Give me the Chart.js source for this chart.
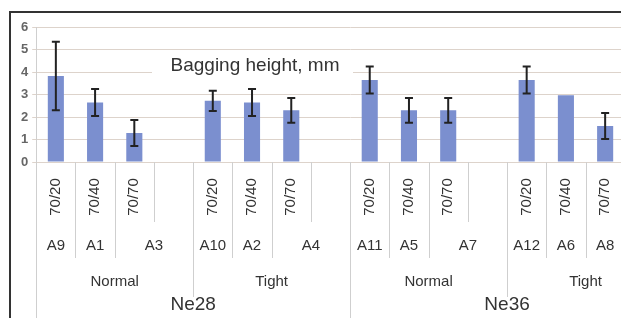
<!DOCTYPE html>
<html>
<head>
    <title>Bagging height</title>
    <script src="https://cdn.jsdelivr.net/npm/chart.js"></script>
    <style>
        body {
            margin: 0;
            background: #fff;
            overflow: hidden;
        }
        .wrap {
            position: absolute;
            left: 0;
            top: 0;
            width: 670px;
            height: 318px;
        }
    </style>
</head>
<body>
    <div class="wrap"><canvas id="bagChart"></canvas></div>
    <script>
        // innermost to outermost category levels
        // '' in outer levels = continues previous cell, null = its own blank cell
        const ratios  = ['70/20', '70/40', '70/70', '', '70/20', '70/40', '70/70', '', '70/20', '70/40', '70/70', '', '70/20', '70/40', '70/70', ''];
        const samples = ['A9', 'A1', 'A3', '', 'A10', 'A2', 'A4', '', 'A11', 'A5', 'A7', '', 'A12', 'A6', 'A8', null];
        const setting = ['Normal', '', '', '', 'Tight', '', '', '', 'Normal', '', '', '', 'Tight', '', '', ''];
        const yarn    = ['Ne28', '', '', '', '', '', '', '', 'Ne36', '', '', '', '', '', '', ''];

        const heights = [3.82, 2.65, 1.29, null, 2.72, 2.65, 2.3, null, 3.64, 2.3, 2.3, null, 3.64, 2.97, 1.6, null];
        const errors  = [1.52, 0.6, 0.58, null, 0.45, 0.6, 0.55, null, 0.6, 0.55, 0.55, null, 0.6, null, 0.58, null];
        const yTicks  = [0, 1, 2, 3, 4, 5, 6];
        const chartTitle = 'Bagging height, mm';

        const levels = [samples, setting, yarn];
        // bottom of each label row: ratios, samples, setting, yarn
        const rowBottoms = [222, 258, 297, 318];
        const rowCenters = [197, 246, 282, 305];

        const framePlugin = {
            id: 'frame',
            beforeDraw(chart) {
                const ctx = chart.ctx;
                ctx.save();
                ctx.strokeStyle = '#333';
                ctx.lineWidth = 2;
                ctx.beginPath();
                ctx.moveTo(10, 330);
                ctx.lineTo(10, 12);
                ctx.lineTo(chart.width, 12);
                ctx.stroke();
                ctx.restore();
            }
        };

        const titlePlugin = {
            id: 'boxTitle',
            beforeDatasetsDraw(chart) {
                const ctx = chart.ctx;
                ctx.save();
                ctx.fillStyle = '#fff';
                ctx.fillRect(152, 53, 201, 22);
                ctx.fillStyle = '#333';
                ctx.font = '19px Arial, "Liberation Sans", sans-serif';
                ctx.textAlign = 'center';
                ctx.textBaseline = 'alphabetic';
                ctx.fillText(chartTitle, 255, 71);
                ctx.restore();
            }
        };

        const errorPlugin = {
            id: 'errorBars',
            afterDatasetsDraw(chart) {
                const ctx = chart.ctx;
                const y = chart.scales.y;
                const meta = chart.getDatasetMeta(0);
                ctx.save();
                ctx.strokeStyle = '#222';
                ctx.lineWidth = 2;
                heights.forEach((v, i) => {
                    if (v == null || errors[i] == null) return;
                    const x = meta.data[i].x;
                    const top = y.getPixelForValue(v + errors[i]);
                    const bot = y.getPixelForValue(v - errors[i]);
                    ctx.beginPath();
                    ctx.moveTo(x, top); ctx.lineTo(x, bot);
                    ctx.moveTo(x - 4, top); ctx.lineTo(x + 4, top);
                    ctx.moveTo(x - 4, bot); ctx.lineTo(x + 4, bot);
                    ctx.stroke();
                });
                ctx.restore();
            }
        };

        const multiAxisPlugin = {
            id: 'multiAxis',
            afterDraw(chart) {
                const ctx = chart.ctx;
                const x = chart.scales.x;
                const n = ratios.length;
                const half = (x.getPixelForValue(1) - x.getPixelForValue(0)) / 2;
                const edge = i => x.getPixelForValue(i) - half;
                const top = chart.chartArea.bottom;

                ctx.save();
                // separator lines
                ctx.strokeStyle = '#cfcfcf';
                ctx.lineWidth = 1;
                for (let b = 0; b <= n; b++) {
                    let depth = 0;
                    if (b === 0 || b === n) depth = 3;
                    else levels.forEach((lv, k) => { if (lv[b] !== '') depth = k + 1; });
                    const px = Math.round(edge(b)) + 0.5;
                    ctx.beginPath();
                    ctx.moveTo(px, top);
                    ctx.lineTo(px, rowBottoms[depth]);
                    ctx.stroke();
                }

                ctx.fillStyle = '#333';
                ctx.textAlign = 'center';
                ctx.textBaseline = 'middle';
                ctx.font = '15px Arial, "Liberation Sans", sans-serif';
                // innermost labels, rotated
                ratios.forEach((t, i) => {
                    if (!t) return;
                    ctx.save();
                    ctx.translate(x.getPixelForValue(i), rowCenters[0]);
                    ctx.rotate(-Math.PI / 2);
                    ctx.fillText(t, 0, 0);
                    ctx.restore();
                });
                // outer levels, centred over their span
                levels.forEach((lv, k) => {
                    ctx.font = (k === 2 ? '19px' : '15px') + ' Arial, "Liberation Sans", sans-serif';
                    for (let i = 0; i < n; i++) {
                        if (lv[i] === '' || lv[i] == null) continue;
                        let j = i + 1;
                        while (j < n && lv[j] === '') j++;
                        const cx = (edge(i) + edge(j)) / 2;
                        ctx.fillText(lv[i], cx, rowCenters[k + 1]);
                    }
                });
                ctx.restore();
            }
        };

        new Chart(document.getElementById('bagChart'), {
            type: 'bar',
            data: {
                labels: ratios,
                datasets: [{
                    data: heights,
                    backgroundColor: '#7b8fcf',
                    barPercentage: 0.41,
                    categoryPercentage: 1
                }]
            },
            options: {
                responsive: true,
                maintainAspectRatio: false,
                animation: false,
                layout: { padding: { left: 17, right: 6, top: 27, bottom: 156 } },
                plugins: { legend: { display: false }, tooltip: { enabled: false } },
                scales: {
                    x: { display: false },
                    y: {
                        min: 0,
                        max: 6,
                        afterBuildTicks: s => { s.ticks = yTicks.map(v => ({ value: v })); },
                        ticks: {
                            padding: 4,
                            color: '#666',
                            font: { family: 'Arial', size: 13, weight: 'bold' }
                        },
                        grid: { color: '#ddd3cb', tickLength: 4 },
                        border: { color: '#cfcfcf' }
                    }
                }
            },
            plugins: [framePlugin, titlePlugin, errorPlugin, multiAxisPlugin]
        });
    </script>
</body>
</html>
